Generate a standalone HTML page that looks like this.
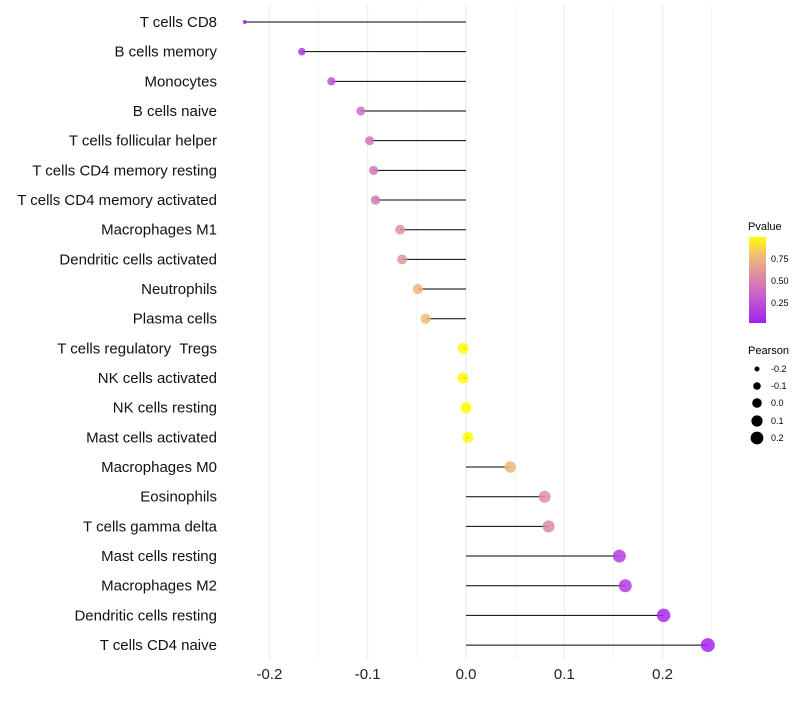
<!DOCTYPE html>
<html><head><meta charset="utf-8"><style>
body{margin:0;background:#fff;font-family:"Liberation Sans",sans-serif;}
</style></head><body>
<svg id="chart" width="800" height="700" xmlns="http://www.w3.org/2000/svg">
<defs><linearGradient id="pg" x1="0" y1="1" x2="0" y2="0">
<stop offset="0" stop-color="#a020f0"/><stop offset="0.35" stop-color="#cc66c8"/><stop offset="0.6" stop-color="#e0969a"/><stop offset="0.8" stop-color="#f2c070"/><stop offset="1" stop-color="#ffff00"/></linearGradient></defs>
<g id="grid"></g><g id="marks"></g><g id="labels"></g>
<g>
<text x="748" y="230" font-size="11">Pvalue</text>
<rect x="749" y="237" width="17" height="86" fill="url(#pg)"/>
<text x="771" y="262" font-size="9">0.75</text><text x="771" y="284" font-size="9">0.50</text><text x="771" y="306" font-size="9">0.25</text>
</g>
<g>
<text x="748" y="354" font-size="11">Pearson</text>
<circle cx="757" cy="369" r="2.5"/><text x="771" y="372" font-size="9">-0.2</text>
<circle cx="757" cy="386" r="3.8"/><text x="771" y="389" font-size="9">-0.1</text>
<circle cx="757" cy="403" r="4.8"/><text x="771" y="406" font-size="9">0.0</text>
<circle cx="757" cy="421" r="5.6"/><text x="771" y="424" font-size="9">0.1</text>
<circle cx="757" cy="438" r="6.4"/><text x="771" y="441" font-size="9">0.2</text>
</g>
</svg>
<script>
const cells=["T cells CD8","B cells memory","Monocytes","B cells naive","T cells follicular helper","T cells CD4 memory resting","T cells CD4 memory activated","Macrophages M1","Dendritic cells activated","Neutrophils","Plasma cells","T cells regulatory  Tregs","NK cells activated","NK cells resting","Mast cells activated","Macrophages M0","Eosinophils","T cells gamma delta","Mast cells resting","Macrophages M2","Dendritic cells resting","T cells CD4 naive"];
const pearson=[-0.225,-0.167,-0.137,-0.107,-0.098,-0.094,-0.092,-0.067,-0.065,-0.049,-0.041,-0.003,-0.003,0.0,0.002,0.045,0.080,0.084,0.156,0.162,0.201,0.246];
const pvalue=[0.01,0.12,0.25,0.38,0.42,0.44,0.45,0.58,0.59,0.75,0.78,0.99,0.99,1.0,0.99,0.76,0.56,0.54,0.15,0.14,0.05,0.03];
const xTicks=[-0.2,-0.1,0.0,0.1,0.2];
const NS="http://www.w3.org/2000/svg";
const x=v=>466+v*983;
const y=i=>22+i*29.67;
const r=v=>2+5*Math.sqrt(Math.max(0,(v+0.225)/0.471));
const stops=[[0,[160,32,240]],[0.35,[204,102,200]],[0.6,[224,150,154]],[0.8,[242,192,112]],[1,[255,255,0]]];
function col(p){for(let k=1;k<stops.length;k++){if(p<=stops[k][0]){const a=stops[k-1],b=stops[k];const t=(p-a[0])/(b[0]-a[0]);return "rgb("+a[1].map((c,j)=>Math.round(c+(b[1][j]-c)*t)).join(",")+")";}}return "rgb(255,255,0)";}
function mk(t,at,parent){const e=document.createElementNS(NS,t);for(const k in at)e.setAttribute(k,at[k]);document.getElementById(parent).appendChild(e);return e;}
for(let g=-0.2;g<=0.25;g+=0.05){const l=mk("line",{x1:x(g),x2:x(g),y1:5,y2:660,stroke:"#ebebeb","stroke-width":Math.abs(Math.round(g*100))%10===0?1:0.6},"grid");

}
xTicks.forEach(t=>{const e=mk("text",{x:x(t),y:679,"text-anchor":"middle","font-size":"15",fill:"#222"},"labels");e.textContent=t.toFixed(1);

});
cells.forEach((c,i)=>{
const ln=mk("line",{x1:x(0),x2:x(pearson[i]),y1:y(i),y2:y(i),stroke:"#000","stroke-width":1},"marks");


const ci=mk("circle",{cx:x(pearson[i]),cy:y(i),r:r(pearson[i]),fill:col(pvalue[i]),"fill-opacity":0.85},"marks");


const t=mk("text",{x:217,y:y(i)+5,"text-anchor":"end","font-size":"15",fill:"#111","xml:space":"preserve",style:"white-space:pre"},"labels");t.textContent=c;


});
</script>
</body></html>
